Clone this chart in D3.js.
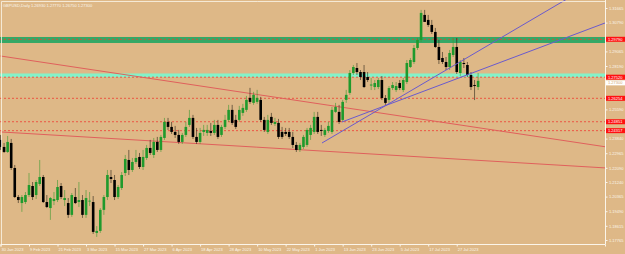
<!DOCTYPE html>
<html><head><meta charset="utf-8">
<script src="https://cdn.jsdelivr.net/npm/d3@7"></script>
<style>html,body{margin:0;padding:0;background:#DEB887;}svg{display:block;}</style>
</head><body><svg id="c" width="625" height="254"></svg>
<script>
const symbol = "GBPUSD,Daily";
const dateLabels = ["30 Jan 2023","9 Feb 2023","21 Feb 2023","3 Mar 2023","15 Mar 2023","27 Mar 2023","6 Apr 2023","18 Apr 2023","28 Apr 2023","10 May 2023","22 May 2023","1 Jun 2023","13 Jun 2023","23 Jun 2023","5 Jul 2023","17 Jul 2023","27 Jul 2023"];
const dateTickIdx = [0,8,16,24,32,40,48,56,64,72,80,88,96,104,112,120,128];
const priceTicks = [1.31665,1.30790,1.29915,1.29065,1.28190,1.27315,1.26465,1.25590,1.24715,1.23840,1.22965,1.22090,1.21240,1.20365,1.19490,1.18615,1.17765];

const opens = [1.2376,1.2334,1.2304,1.2358,1.2208,1.2034,1.1998,1.2004,1.2046,1.2100,
1.2046,1.2112,1.2154,1.2004,1.1968,1.2010,1.2016,1.2100,1.2016,1.1998,
1.1927,1.2034,1.2004,1.2016,1.1927,1.2010,1.2004,1.1819,1.1831,1.1957,
1.2034,1.2154,1.2136,1.2034,1.2088,1.2178,1.2256,1.2196,1.2244,1.2274,
1.2214,1.2268,1.2328,1.2286,1.2364,1.2316,1.2388,1.2484,1.2454,1.2424,
1.2406,1.2364,1.2406,1.2466,1.2508,1.2394,1.2364,1.2424,1.2418,1.2430,
1.2418,1.2466,1.2406,1.2454,1.2496,1.2556,1.2496,1.2496,1.2538,1.2556,
1.2628,1.2598,1.2604,1.2616,1.2496,1.2424,1.2514,1.2472,1.2478,1.2424,
1.2424,1.2424,1.2394,1.2346,1.2316,1.2334,1.2346,1.2406,1.2424,1.2514,
1.2436,1.2406,1.2430,1.2424,1.2544,1.2544,1.2496,1.2616,1.2658,1.2777,
1.2807,1.2783,1.2783,1.2753,1.2702,1.2693,1.2693,1.2735,1.2627,1.2616,
1.2687,1.2675,1.2717,1.2675,1.2723,1.2813,1.2843,1.2927,1.2975,1.3125,
1.3095,1.3065,1.3023,1.2933,1.2867,1.2843,1.2813,1.2885,1.2933,1.2777,
1.2837,1.2825,1.2765,1.2705,1.2693];
const highs = [1.2406,1.2358,1.2400,1.2382,1.2226,1.2046,1.2046,1.2064,1.2178,1.2124,
1.2136,1.2256,1.2166,1.2046,1.2034,1.2064,1.2136,1.2118,1.2076,1.2028,
1.2058,1.2088,1.2124,1.2046,1.2076,1.2064,1.2040,1.1860,1.1968,1.2046,
1.2196,1.2196,1.2166,1.2106,1.2184,1.2286,1.2316,1.2268,1.2316,1.2298,
1.2316,1.2346,1.2376,1.2388,1.2394,1.2406,1.2508,1.2508,1.2484,1.2460,
1.2436,1.2418,1.2484,1.2556,1.2526,1.2448,1.2448,1.2466,1.2466,1.2478,
1.2496,1.2496,1.2466,1.2526,1.2586,1.2586,1.2526,1.2580,1.2592,1.2640,
1.2688,1.2664,1.2676,1.2634,1.2514,1.2526,1.2538,1.2508,1.2502,1.2454,
1.2448,1.2448,1.2424,1.2364,1.2358,1.2406,1.2448,1.2466,1.2544,1.2544,
1.2466,1.2448,1.2484,1.2574,1.2598,1.2586,1.2616,1.2676,1.2795,1.2825,
1.2837,1.2795,1.2825,1.2783,1.2747,1.2735,1.2747,1.2759,1.2645,1.2699,
1.2723,1.2723,1.2735,1.2747,1.2855,1.2867,1.2945,1.2987,1.3155,1.3155,
1.3125,1.3095,1.3047,1.2975,1.2903,1.2873,1.2915,1.2987,1.2987,1.2855,
1.2867,1.2843,1.2783,1.2735,1.2777];
const lows = [1.2316,1.2298,1.2298,1.2196,1.2028,1.1998,1.1945,1.1992,1.2034,1.2016,
1.2022,1.2100,1.1998,1.1968,1.1897,1.1986,1.2004,1.2022,1.1980,1.1909,
1.1915,1.1992,1.1974,1.1909,1.1909,1.1980,1.1813,1.1795,1.1819,1.1927,
1.2016,1.2118,1.2016,1.2022,1.2076,1.2160,1.2166,1.2184,1.2232,1.2202,
1.2196,1.2256,1.2286,1.2268,1.2304,1.2304,1.2376,1.2436,1.2412,1.2388,
1.2352,1.2352,1.2394,1.2454,1.2382,1.2352,1.2352,1.2400,1.2400,1.2400,
1.2406,1.2382,1.2394,1.2442,1.2484,1.2466,1.2442,1.2484,1.2520,1.2544,
1.2592,1.2586,1.2592,1.2484,1.2424,1.2412,1.2466,1.2460,1.2382,1.2382,
1.2400,1.2382,1.2328,1.2304,1.2304,1.2322,1.2334,1.2376,1.2412,1.2412,
1.2400,1.2394,1.2418,1.2412,1.2538,1.2472,1.2484,1.2598,1.2646,1.2765,
1.2765,1.2735,1.2687,1.2723,1.2675,1.2675,1.2681,1.2615,1.2586,1.2598,
1.2675,1.2663,1.2675,1.2663,1.2711,1.2807,1.2831,1.2915,1.2963,1.3101,
1.3053,1.3011,1.2927,1.2831,1.2831,1.2795,1.2795,1.2873,1.2771,1.2759,
1.2807,1.2753,1.2675,1.2615,1.2675];
const closes = [1.2334,1.2304,1.2364,1.2208,1.2034,1.2016,1.2034,1.2046,1.2106,1.2034,
1.2124,1.2154,1.2004,1.1974,1.2028,1.2022,1.2094,1.2034,1.2028,1.1927,
1.2046,1.1998,1.2016,1.1927,1.2028,1.2012,1.1825,1.1831,1.1957,1.2034,
1.2166,1.2142,1.2034,1.2094,1.2166,1.2262,1.2196,1.2244,1.2268,1.2214,
1.2274,1.2328,1.2298,1.2364,1.2316,1.2394,1.2484,1.2454,1.2424,1.2406,
1.2364,1.2406,1.2454,1.2508,1.2394,1.2364,1.2418,1.2436,1.2436,1.2418,
1.2466,1.2394,1.2454,1.2496,1.2556,1.2478,1.2454,1.2556,1.2568,1.2616,
1.2604,1.2646,1.2628,1.2496,1.2436,1.2496,1.2478,1.2484,1.2394,1.2394,
1.2412,1.2394,1.2346,1.2316,1.2346,1.2394,1.2436,1.2448,1.2514,1.2424,
1.2430,1.2436,1.2460,1.2556,1.2574,1.2484,1.2604,1.2646,1.2777,1.2813,
1.2783,1.2753,1.2693,1.2735,1.2708,1.2717,1.2735,1.2627,1.2598,1.2687,
1.2705,1.2699,1.2687,1.2735,1.2837,1.2855,1.2927,1.2975,1.3137,1.3083,
1.3065,1.3023,1.2933,1.2855,1.2843,1.2813,1.2897,1.2933,1.2783,1.2843,
1.2831,1.2765,1.2693,1.2699,1.2730];

// horizontal objects
const levels = [1.29790,1.27520,1.26254,1.24851,1.24317];
const greenZone = [1.29569,1.29928];
const aquaZone = [1.27522,1.27742];
// trend lines: [barIndex1, price1, barIndex2, price2]
const redLines = [[0,1.2879,170,1.2334],[0,1.2424,170,1.2208]];
const blueLines = [[90.2,1.23578,190,1.36105],[95.8,1.24836,169.6,1.30766]];

const svg = d3.select("#c");
const W=625,H=254, PR=605, PB=244;
const x = d3.scaleLinear().domain([0,169.6]).range([0.5,605]);
const y = d3.scaleLinear().domain([1.17765,1.31665]).range([240,8]);
const fg = "#fbf5ea";
const font = "Liberation Sans, Arial, sans-serif";
const f5 = d3.format(".5f");
const last = closes.length-1;

svg.append("rect").attr("width",W).attr("height",H).attr("fill","#DEB887");
svg.append("defs").append("clipPath").attr("id","clip").append("rect").attr("x",0).attr("y",0).attr("width",PR).attr("height",PB);
const g = svg.append("g").attr("clip-path","url(#clip)");

g.append("rect").attr("x",0).attr("width",PR).attr("y",y(greenZone[1])).attr("height",y(greenZone[0])-y(greenZone[1])).attr("fill","#34a866");
g.append("rect").attr("x",0).attr("width",PR).attr("y",y(aquaZone[1])).attr("height",y(aquaZone[0])-y(aquaZone[1])).attr("fill","#84f2c8");

g.selectAll("line.lvl").data(levels).join("line").attr("class","lvl")
 .attr("x1",0).attr("x2",PR).attr("y1",d=>y(d)).attr("y2",d=>y(d))
 .attr("stroke","#f03c32").attr("stroke-width",0.8).attr("stroke-dasharray","2,2");

g.selectAll("line.rl").data(redLines).join("line").attr("class","rl")
 .attr("x1",d=>x(d[0])).attr("y1",d=>y(d[1])).attr("x2",d=>x(d[2])).attr("y2",d=>y(d[3]))
 .attr("stroke","#e0605c").attr("stroke-width",1);

const idx = d3.range(opens.length);
const cg = g.append("g");
cg.selectAll("line.w").data(idx).join("line").attr("class","w")
 .attr("x1",i=>x(i)).attr("x2",i=>x(i)).attr("y1",i=>y(highs[i])).attr("y2",i=>y(lows[i]))
 .attr("stroke",i=>closes[i]>=opens[i]?"#3a9a30":"#2a2418").attr("stroke-width",0.8).attr("stroke-opacity",0.75);
cg.selectAll("rect.b").data(idx).join("rect").attr("class","b")
 .attr("x",i=>x(i)-1.3).attr("width",2.6)
 .attr("y",i=>y(Math.max(opens[i],closes[i])))
 .attr("height",i=>Math.max(0.8,Math.abs(y(opens[i])-y(closes[i]))))
 .attr("fill",i=>closes[i]>=opens[i]?"#1f9a2c":"#000");

g.selectAll("line.bl").data(blueLines).join("line").attr("class","bl")
 .attr("x1",d=>x(d[0])).attr("y1",d=>y(d[1])).attr("x2",d=>x(d[2])).attr("y2",d=>y(d[3]))
 .attr("stroke","#6a5acd").attr("stroke-width",1);

// frame
svg.append("path").attr("d",`M1.5,${PB}V1.5H${PR}`).attr("fill","none").attr("stroke",fg).attr("stroke-width",0.8);

// right axis (ticks hidden under the price labels are skipped)
const labelYs = levels.map(v=>y(v)).concat([y(closes[last])+2]);
const shownTicks = priceTicks.filter(t=>labelYs.every(ly=>Math.abs(y(t)-ly)>4.5));
const ya = svg.append("g").attr("transform",`translate(${PR},0)`)
 .call(d3.axisRight(y).tickValues(shownTicks).tickSize(2.5).tickFormat(f5));
ya.select(".domain").attr("stroke",fg).attr("d",`M0.5,0V${PB}`);
ya.selectAll(".tick line").attr("stroke",fg);
ya.selectAll(".tick text").attr("fill",fg).attr("font-size",4).attr("font-family",font).attr("x",4);

// bottom axis
const xa = svg.append("g").attr("transform",`translate(0,${PB})`)
 .call(d3.axisBottom(x).tickValues(dateTickIdx).tickSize(2.5).tickFormat((d,i)=>dateLabels[i]));
xa.select(".domain").attr("stroke",fg);
xa.selectAll(".tick line").attr("stroke",fg);
xa.selectAll(".tick text").attr("fill",fg).attr("font-size",4).attr("font-family",font).attr("text-anchor","start").attr("x",0.5).attr("y",4);

// level labels
const lab = svg.append("g");
levels.forEach(v=>{
  lab.append("rect").attr("x",PR+1).attr("y",y(v)-2.5).attr("width",19).attr("height",5).attr("fill","#ff1010");
  lab.append("text").attr("x",PR+3).attr("y",y(v)+1.4).text(f5(v)).attr("fill","#fff").attr("font-size",4).attr("font-family",font);
});
const bidY = y(closes[last])+2;
lab.append("rect").attr("x",PR+1).attr("y",bidY-2.5).attr("width",19).attr("height",5).attr("fill","#fff");
lab.append("text").attr("x",PR+3).attr("y",bidY+1.4).text(f5(closes[last])).attr("fill","#d2a870").attr("font-size",4).attr("font-family",font);

// title
svg.append("text").attr("x",3).attr("y",7).attr("fill",fg).attr("font-size",4).attr("font-family",font)
 .text(`${symbol}  ${f5(opens[last])} ${f5(highs[last])} ${f5(lows[last])} ${f5(closes[last])}`);
</script></body></html>
